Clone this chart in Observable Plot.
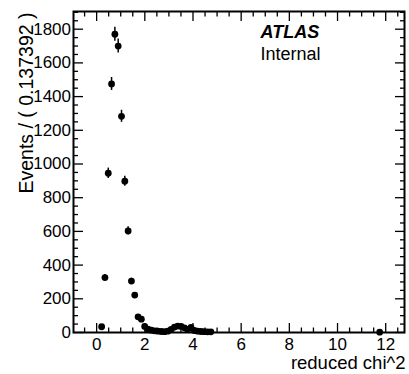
<!DOCTYPE html>
<html>
<head>
<meta charset="utf-8">
<script src="https://cdn.jsdelivr.net/npm/d3@7"></script>
<script src="https://cdn.jsdelivr.net/npm/@observablehq/plot@0.6"></script>
<style>
  html, body { margin: 0; padding: 0; background: #fff; }
  #chart svg { display: block; }
</style>
</head>
<body>
<div id="chart"></div>
<script>
// Bin centers (reduced chi^2) and event counts per bin (bin width 0.137392)
const chi2 = [0.208, 0.345, 0.483, 0.620, 0.758, 0.895, 1.033, 1.170, 1.307, 1.445,
              1.582, 1.720, 1.857, 1.995, 2.132, 2.270, 2.407, 2.544, 2.682, 2.819,
              2.956, 3.094, 3.231, 3.368, 3.506, 3.643, 3.780, 3.918, 4.055, 4.193,
              4.330, 4.467, 4.605, 4.742, 11.75];
const events = [34, 326, 945, 1475, 1770, 1700, 1283, 898, 603, 305,
                222, 93, 79, 36, 20, 14, 10, 8, 6, 5,
                8, 18, 32, 38, 36, 28, 18, 30, 12, 8,
                6, 5, 4, 4, 2];

// Axis ticks
const xMajor = [0, 2, 4, 6, 8, 10, 12];
const xMinor = [-0.5, 0.5, 1, 1.5, 2.5, 3, 3.5, 4.5, 5, 5.5, 6.5, 7, 7.5, 8.5, 9, 9.5,
                10.5, 11, 11.5, 12.5];
const yMajor = [0, 200, 400, 600, 800, 1000, 1200, 1400, 1600, 1800];
const yMinor = [50, 100, 150, 250, 300, 350, 450, 500, 550, 650, 700, 750, 850, 900, 950,
                1050, 1100, 1150, 1250, 1300, 1350, 1450, 1500, 1550, 1650, 1700, 1750, 1850, 1900];

const xTitle = "reduced chi^2";
const yTitle = "Events / ( 0.137392 )";
const atlasLabel = "ATLAS";
const atlasSub = "Internal";

const data = chi2.map((x, i) => ({x, y: events[i], err: Math.sqrt(events[i])}));

const font = "'Liberation Sans', Arial, Helvetica, sans-serif";

const chart = Plot.plot({
  width: 409,
  height: 374,
  marginLeft: 73,
  marginRight: 5,
  marginTop: 11,
  marginBottom: 42,
  style: {fontFamily: font, background: "#fff", color: "#000"},
  x: {domain: [-0.96, 12.78], axis: null},
  y: {domain: [0, 1905], axis: null},
  marks: [
    // inward ticks on all four sides
    Plot.axisX(xMajor, {anchor: "bottom", tickSize: -9, text: null, label: null, strokeWidth: 1.3}),
    Plot.axisX(xMinor, {anchor: "bottom", tickSize: -4.5, text: null, label: null, strokeWidth: 1.3}),
    Plot.axisX(xMajor, {anchor: "top", tickSize: -9, text: null, label: null, strokeWidth: 1.3}),
    Plot.axisX(xMinor, {anchor: "top", tickSize: -4.5, text: null, label: null, strokeWidth: 1.3}),
    Plot.axisY(yMajor, {anchor: "left", tickSize: -10, text: null, label: null, strokeWidth: 1.3}),
    Plot.axisY(yMinor, {anchor: "left", tickSize: -5, text: null, label: null, strokeWidth: 1.3}),
    Plot.axisY(yMajor, {anchor: "right", tickSize: -10, text: null, label: null, strokeWidth: 1.3}),
    Plot.axisY(yMinor, {anchor: "right", tickSize: -5, text: null, label: null, strokeWidth: 1.3}),
    // tick labels
    Plot.axisX(xMajor, {anchor: "bottom", tickSize: 0, tickPadding: 5, fontSize: 17, label: null,
      fill: "#000", tickFormat: d => String(d)}),
    Plot.axisY(yMajor, {anchor: "left", tickSize: 0, tickPadding: 2.5, fontSize: 17, label: null,
      fill: "#000", tickFormat: d => String(d)}),
    Plot.frame({stroke: "#000", strokeWidth: 2}),
    // error bars
    Plot.ruleX(data, {x: "x", y1: d => d.y - d.err, y2: d => d.y + d.err, stroke: "#000", strokeWidth: 1.5}),
    // markers
    Plot.dot(data, {x: "x", y: "y", r: 3.4, fill: "#000", stroke: null}),
    // axis titles
    Plot.text([xTitle], {frameAnchor: "bottom-right", text: d => d, textAnchor: "end", lineAnchor: "middle",
      dx: 1, dy: 31, fontSize: 18.5, fill: "#000"}),
    Plot.text([yTitle], {frameAnchor: "top-left", text: d => d, textAnchor: "end", lineAnchor: "middle",
      rotate: -90, dx: -47, dy: 1, fontSize: 19.5, fill: "#000"}),
    // ATLAS Internal label
    Plot.text([atlasLabel], {frameAnchor: "top-left", text: d => d, textAnchor: "start", lineAnchor: "middle",
      dx: 187, dy: 20.7, fontSize: 18, fontWeight: "bold", fontStyle: "italic", fill: "#000"}),
    Plot.text([atlasSub], {frameAnchor: "top-left", text: d => d, textAnchor: "start", lineAnchor: "middle",
      dx: 187, dy: 43, fontSize: 18, fill: "#000"})
  ]
});
document.getElementById("chart").appendChild(chart);
</script>
</body>
</html>
